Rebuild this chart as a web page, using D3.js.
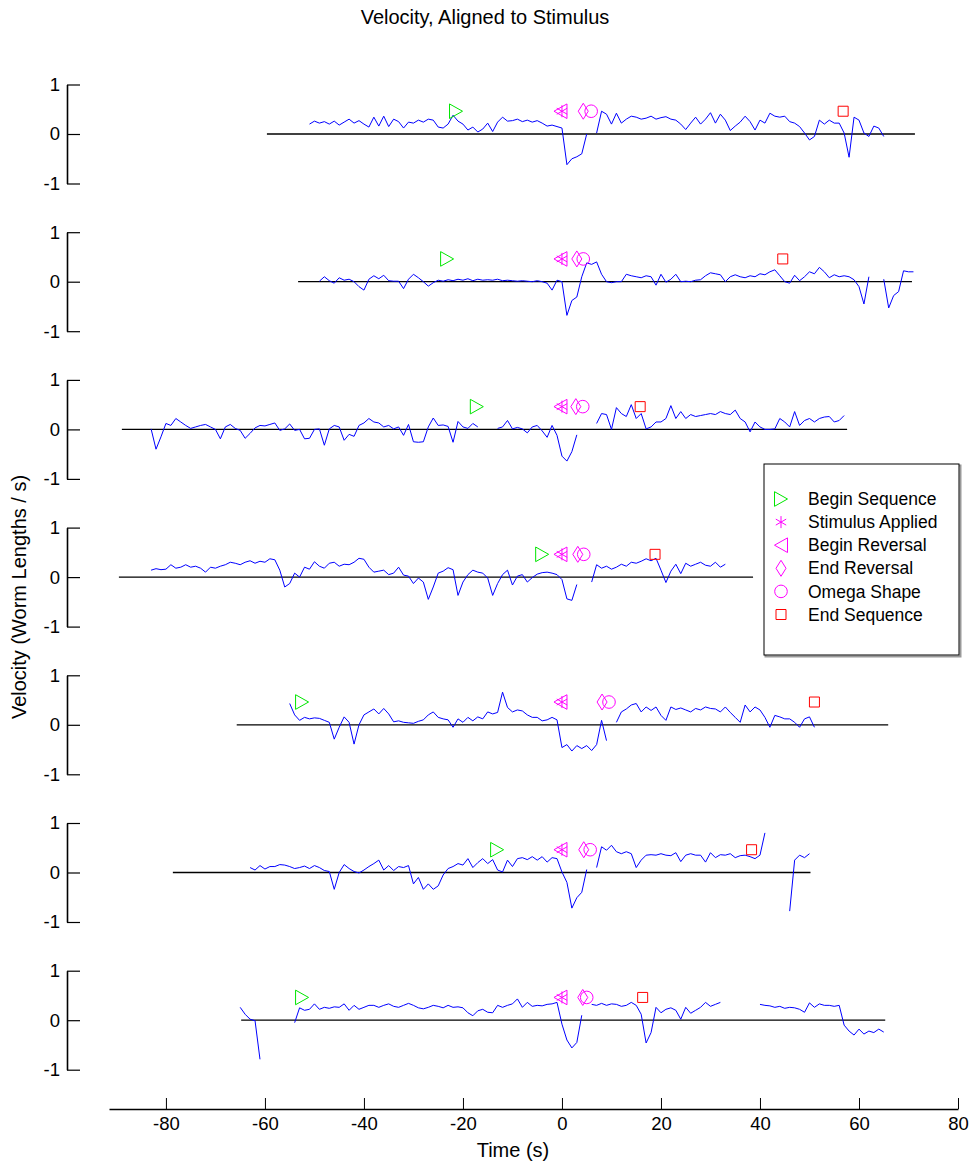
<!DOCTYPE html>
<html>
<head>
<meta charset="utf-8">
<script src="https://cdn.jsdelivr.net/npm/d3@7"></script>
<style>
  body { margin: 0; background: #fff; }
  text { font-family: 'Liberation Sans', Arial, Helvetica, sans-serif; }
</style>
</head>
<body>
<div id="chart"></div>
<script>
// Tick labels
const xTicks = [-80, -60, -40, -20, 0, 20, 40, 60, 80];
const yTicks = [-1, 0, 1];

// First sample time (s) of each trial, samples are 1 s apart, null = gap
const traceStart = [-51, -49, -83, -83, -55, -63, -65];

const vel1 = [
  0.20, 0.26, 0.22, 0.25, 0.20, 0.26, 0.18, 0.24, 0.30, 0.22,
  0.27, 0.20, 0.14, 0.34, 0.16, 0.36, 0.15, 0.30, 0.25, 0.12,
  0.24, 0.22, 0.28, 0.24, 0.30, 0.28, 0.14, 0.12, 0.20, 0.38,
  0.26, 0.20, 0.08, 0.14, 0.04, 0.10, 0.22, 0.05, 0.24, 0.34,
  0.26, 0.27, 0.30, 0.25, 0.28, 0.24, 0.27, 0.22, 0.16, 0.18,
  0.15, 0.12, -0.62, -0.50, -0.46, -0.40, 0.00, null, 0.02, 0.46,
  0.40, 0.20, 0.42, 0.22, 0.30, 0.36, 0.34, 0.30, 0.32, 0.36,
  0.30, 0.33, 0.35, 0.30, 0.28, 0.20, 0.09, 0.22, 0.34, 0.20,
  0.30, 0.43, 0.22, 0.40, 0.28, 0.07, 0.16, 0.24, 0.36, 0.25,
  0.08, 0.28, 0.22, 0.42, 0.36, 0.34, 0.36, 0.25, 0.22, 0.15,
  0.02, -0.12, -0.05, 0.28, 0.20, 0.28, 0.22, 0.22, 0.02, -0.47,
  0.34, 0.28, 0.02, -0.05, 0.16, 0.12, -0.05
];
const vel2 = [
  0.01, 0.10, 0.02, -0.03, 0.08, 0.03, 0.05, 0.00, -0.10, -0.17,
  0.05, 0.12, 0.06, 0.13, 0.02, 0.01, 0.01, -0.14, 0.05, 0.15,
  0.08, 0.00, -0.09, -0.02, 0.03, 0.01, 0.04, 0.02, 0.05, 0.03,
  0.06, 0.02, 0.05, 0.03, 0.04, 0.03, 0.05, 0.02, 0.03, 0.02,
  0.01, 0.02, 0.01, 0.00, 0.02, 0.00, -0.03, -0.17, 0.03, 0.00,
  -0.68, -0.38, -0.31, 0.10, 0.38, 0.35, 0.40, 0.15, 0.00, -0.02,
  0.00, 0.00, 0.15, 0.12, 0.10, 0.08, 0.12, 0.10, -0.07, 0.15,
  -0.01, 0.05, 0.15, 0.00, 0.01, 0.00, 0.03, 0.04, 0.12, 0.18,
  0.16, 0.14, 0.00, 0.10, 0.14, 0.10, 0.08, 0.12, 0.10, 0.16,
  0.14, 0.20, 0.24, 0.12, 0.00, -0.03, 0.13, 0.02, 0.10, 0.20,
  0.16, 0.29, 0.20, 0.08, 0.14, 0.10, 0.12, 0.10, 0.04, -0.10,
  -0.45, 0.10, null, null, 0.05, -0.53, -0.28, -0.20, 0.22, 0.20,
  0.20
];
const vel3 = [
  0.01, -0.40, -0.15, 0.12, 0.08, 0.22, 0.15, 0.08, 0.02, 0.05,
  0.08, 0.10, 0.05, 0.00, -0.19, 0.05, 0.10, 0.02, -0.02, -0.18,
  -0.08, 0.03, 0.08, 0.07, 0.10, 0.13, -0.02, 0.01, 0.11, -0.02,
  0.00, -0.19, -0.18, 0.00, 0.01, -0.32, 0.01, 0.08, 0.05, -0.22,
  -0.10, -0.14, 0.08, 0.13, 0.22, 0.15, 0.13, 0.05, 0.08, 0.01,
  0.05, -0.12, 0.10, -0.25, -0.26, -0.25, 0.05, 0.23, 0.08, 0.09,
  0.06, -0.26, 0.16, 0.05, 0.02, 0.12, 0.05, null, null, null,
  0.02, 0.05, 0.18, 0.01, 0.04, 0.01, -0.07, 0.05, 0.08, -0.03,
  -0.16, 0.08, -0.12, -0.54, -0.64, -0.45, -0.11, null, null, null,
  0.12, 0.32, 0.30, 0.00, 0.44, 0.32, 0.26, 0.50, 0.22, 0.32,
  0.01, 0.05, 0.15, 0.15, 0.22, 0.48, 0.22, 0.36, 0.22, 0.30,
  0.26, 0.28, 0.30, 0.32, 0.30, 0.36, 0.32, 0.30, 0.39, 0.22,
  0.15, -0.05, 0.15, 0.05, 0.00, 0.00, 0.01, 0.22, 0.15, 0.05,
  0.36, 0.08, 0.18, 0.22, 0.15, 0.22, 0.25, 0.26, 0.15, 0.18,
  0.28
];
const vel4 = [
  0.14, 0.17, 0.15, 0.16, 0.25, 0.18, 0.20, 0.25, 0.20, 0.22,
  0.18, 0.10, 0.20, 0.18, 0.22, 0.25, 0.30, 0.28, 0.25, 0.30,
  0.33, 0.28, 0.32, 0.30, 0.37, 0.35, 0.14, -0.20, -0.13, 0.08,
  0.00, 0.20, 0.16, 0.31, 0.22, 0.18, 0.28, 0.30, 0.22, 0.26,
  0.25, 0.30, 0.38, 0.36, 0.20, 0.10, 0.12, 0.14, 0.05, 0.08,
  0.20, 0.04, 0.02, -0.13, -0.02, -0.10, -0.45, -0.20, 0.08, 0.12,
  0.19, 0.15, -0.37, -0.10, 0.05, 0.14, 0.10, 0.08, -0.02, -0.37,
  -0.13, 0.05, 0.14, -0.16, 0.02, 0.05, -0.10, -0.01, 0.06, 0.09,
  0.10, 0.08, 0.05, -0.05, -0.44, -0.47, -0.15, null, null, -0.10,
  0.25, 0.18, 0.22, 0.16, 0.20, 0.26, 0.22, 0.30, 0.28, 0.32,
  0.37, 0.33, 0.38, 0.14, -0.11, 0.12, 0.26, 0.07, 0.28, 0.22,
  0.26, 0.30, 0.24, 0.22, 0.30, 0.20, 0.26
];
const vel5 = [
  0.43, 0.20, 0.09, 0.15, 0.12, 0.14, 0.13, 0.09, 0.05, -0.29,
  -0.05, 0.16, 0.05, -0.39, 0.00, 0.20, 0.26, 0.32, 0.22, 0.33,
  0.22, 0.06, 0.08, 0.05, 0.04, 0.03, 0.07, 0.10, 0.20, 0.26,
  0.15, 0.12, 0.10, -0.05, 0.12, 0.05, 0.15, 0.08, 0.16, 0.12,
  0.26, 0.22, 0.25, 0.66, 0.35, 0.26, 0.30, 0.28, 0.20, 0.15,
  0.15, 0.08, 0.10, 0.15, 0.10, -0.46, -0.40, -0.53, -0.42, -0.48,
  -0.42, -0.52, -0.40, 0.09, -0.32, null, 0.05, 0.26, 0.32, 0.40,
  0.43, 0.26, 0.36, 0.29, 0.36, 0.19, 0.09, 0.36, 0.31, 0.34,
  0.30, 0.26, 0.33, 0.30, 0.36, 0.33, 0.32, 0.26, 0.36, 0.25,
  0.15, 0.05, 0.40, 0.26, 0.36, 0.30, 0.15, -0.05, 0.19, 0.16,
  0.12, 0.12, 0.05, -0.05, 0.12, 0.16, -0.05
];
const vel6 = [
  0.10, 0.05, 0.14, 0.07, 0.12, 0.12, 0.16, 0.15, 0.12, 0.08,
  0.10, 0.13, 0.08, 0.14, 0.10, 0.04, 0.02, -0.34, 0.00, 0.16,
  0.08, 0.02, -0.01, 0.05, 0.12, 0.18, 0.25, 0.05, 0.14, 0.04,
  0.12, 0.10, 0.14, -0.23, -0.10, -0.34, -0.23, -0.34, -0.27, -0.05,
  0.08, 0.12, 0.18, 0.15, 0.28, 0.10, 0.20, 0.28, 0.18, 0.26,
  0.05, 0.01, 0.25, 0.12, 0.28, 0.30, 0.26, 0.32, 0.25, 0.32,
  0.21, 0.30, 0.28, 0.01, -0.20, -0.72, -0.51, -0.40, 0.06, null,
  0.10, 0.52, 0.45, 0.55, 0.42, 0.38, 0.42, 0.38, 0.10, 0.25,
  0.35, 0.36, 0.35, 0.38, 0.35, 0.34, 0.40, 0.22, 0.35, 0.38,
  0.35, 0.35, 0.21, 0.40, 0.30, 0.36, 0.35, 0.38, 0.30, 0.34,
  0.35, 0.32, 0.28, 0.35, 0.80, null, null, null, null, -0.78,
  0.25, 0.35, 0.30, 0.38
];
const vel7 = [
  0.26, 0.12, 0.02, -0.01, -0.79, null, null, null, null, null,
  null, -0.05, 0.25, 0.20, 0.22, 0.33, 0.22, 0.26, 0.24, 0.27,
  0.26, 0.33, 0.20, 0.30, 0.22, 0.26, 0.30, 0.30, 0.26, 0.30,
  0.33, 0.28, 0.26, 0.30, 0.34, 0.30, 0.25, 0.23, 0.26, 0.30,
  0.28, 0.25, 0.30, 0.26, 0.27, 0.25, 0.15, 0.09, 0.19, 0.22,
  0.16, 0.15, 0.30, 0.26, 0.30, 0.33, 0.43, 0.26, 0.36, 0.28,
  0.30, 0.29, 0.32, 0.33, 0.36, -0.08, -0.40, -0.56, -0.45, 0.10,
  null, 0.32, 0.30, 0.34, 0.30, 0.33, 0.32, 0.28, 0.30, 0.36,
  0.30, 0.12, -0.46, -0.25, 0.26, 0.15, 0.22, 0.25, 0.20, 0.02,
  0.26, 0.14, 0.20, 0.26, 0.36, 0.28, 0.32, 0.36, null, null,
  null, null, null, null, null, 0.32, 0.30, 0.29, 0.26, 0.28,
  0.24, 0.26, 0.25, 0.22, 0.16, 0.35, 0.26, 0.33, 0.30, 0.30,
  0.28, 0.30, -0.10, -0.22, -0.30, -0.18, -0.28, -0.22, -0.25, -0.18,
  -0.24
];
const velocities = [vel1, vel2, vel3, vel4, vel5, vel6, vel7];

// Extent of each trial's zero reference line (s)
const baseStart = [-59.6, -53.3, -88.9, -89.5, -65.7, -78.6, -64.8];
const baseEnd = [71.3, 70.7, 57.6, 38.6, 65.9, 50.2, 65.3];

// Behavioural events per trial (s)
const beginSequence = [-21.4, -23.2, -17.2, -4.0, -52.5, -13.1, -52.5];
const stimulusApplied = [0, 0, 0, 0, 0, 0, 0];
const beginReversal = [-0.3, -0.3, -0.3, -0.3, -0.3, -0.3, -0.3];
const endReversal = [4.3, 3.0, 2.8, 3.2, 8.1, 4.4, 4.2];
const omegaShape = [5.9, 4.3, 4.2, 4.4, 9.5, 5.7, 5.0];
const endSequence = [56.8, 44.6, 15.8, 18.8, 51.0, 38.3, 16.3];
const markerLevel = 0.46;

const legendLabels = ['Begin Sequence', 'Stimulus Applied', 'Begin Reversal',
  'End Reversal', 'Omega Shape', 'End Sequence'];

// marker shapes, centred on 0,0
const shapes = {
  triRight: 'M-6.5,-7.3L6.5,0L-6.5,7.3Z',
  triLeft: 'M6.5,-7.3L-6.5,0L6.5,7.3Z',
  diamond: 'M0,-8L5,0L0,8L-5,0Z',
  circle: 'M6.3,0A6.3,6.3 0 1,1 -6.3,0A6.3,6.3 0 1,1 6.3,0Z',
  square: 'M-5,-5H5V5H-5Z',
  asterisk: 'M0,-6V6M-5.2,-3L5.2,3M-5.2,3L5.2,-3',
};

const events = [
  { times: beginSequence, shape: 'triRight', color: '#00e600' },
  { times: stimulusApplied, shape: 'asterisk', color: '#ff00ff' },
  { times: beginReversal, shape: 'triLeft', color: '#ff00ff' },
  { times: endReversal, shape: 'diamond', color: '#ff00ff' },
  { times: omegaShape, shape: 'circle', color: '#ff00ff' },
  { times: endSequence, shape: 'square', color: '#ff0000' },
];

const width = 974;
const height = 1165;

const svg = d3.select('#chart')
  .append('svg')
  .attr('width', width)
  .attr('height', height);

// shared time scale
const x = d3.scaleLinear().domain([-91.5, 80]).range([109, 958]);

const panelTop = 84.5;
const panelStep = 147.7;
const panelH = 99;

const y = d3.scaleLinear().domain([-1, 1]).range([panelH, 0]);

const line = d3.line()
  .defined(d => d[1] !== null)
  .x(d => x(d[0]))
  .y(d => y(d[1]));

velocities.forEach((vals, i) => {
  const g = svg.append('g')
    .attr('transform', `translate(0, ${panelTop + i * panelStep})`);

  // y axis
  const ax = g.append('g')
    .attr('transform', 'translate(67, 0)')
    .call(d3.axisLeft(y)
      .tickValues(yTicks)
      .tickFormat(d => String(d))
      .tickSizeInner(-13)
      .tickSizeOuter(0)
      .tickPadding(7));
  ax.attr('font-size', 18.5).attr('font-family', null);
  ax.select('.domain').attr('stroke-width', 1.6);
  ax.selectAll('.tick line').attr('stroke-width', 1.2);

  // zero line
  g.append('line')
    .attr('x1', x(baseStart[i]))
    .attr('x2', x(baseEnd[i]))
    .attr('y1', y(0))
    .attr('y2', y(0))
    .attr('stroke', '#000')
    .attr('stroke-width', 1.3);

  // velocity trace
  const data = vals.map((v, k) => [traceStart[i] + k, v]);
  g.append('path')
    .attr('d', line(data))
    .attr('fill', 'none')
    .attr('stroke', '#0000ff')
    .attr('stroke-width', 1);

  // event markers
  events.forEach((ev) => {
    g.append('path')
      .attr('d', shapes[ev.shape])
      .attr('transform', `translate(${x(ev.times[i])}, ${y(markerLevel)})`)
      .attr('fill', 'none')
      .attr('stroke', ev.color)
      .attr('stroke-width', 1);
  });
});

// bottom time axis
const xAx = svg.append('g')
  .attr('transform', 'translate(0, 1109)')
  .call(d3.axisBottom(x)
    .tickValues(xTicks)
    .tickFormat(d => String(d))
    .tickSizeInner(-11)
    .tickSizeOuter(0)
    .tickPadding(8));
xAx.attr('font-size', 18.5).attr('font-family', null);
xAx.select('.domain').attr('stroke-width', 1.6);

// titles
svg.append('text')
  .attr('x', 485)
  .attr('y', 24)
  .attr('text-anchor', 'middle')
  .attr('font-size', 20)
  .text('Velocity, Aligned to Stimulus');

svg.append('text')
  .attr('x', 513)
  .attr('y', 1157)
  .attr('text-anchor', 'middle')
  .attr('font-size', 20)
  .text('Time (s)');

svg.append('text')
  .attr('transform', 'translate(26, 597) rotate(-90)')
  .attr('text-anchor', 'middle')
  .attr('font-size', 20)
  .text('Velocity (Worm Lengths / s)');

// legend
const legend = svg.append('g').attr('transform', 'translate(764, 464)');
legend.append('rect')
  .attr('x', 1.5).attr('y', 1.5)
  .attr('width', 195).attr('height', 191)
  .attr('fill', 'none')
  .attr('stroke', '#999')
  .attr('stroke-width', 2);
legend.append('rect')
  .attr('width', 195).attr('height', 191)
  .attr('fill', '#fff')
  .attr('stroke', '#000')
  .attr('stroke-width', 1);

legendLabels.forEach((label, k) => {
  const row = legend.append('g').attr('transform', `translate(0, ${35 + k * 23.1})`);
  row.append('path')
    .attr('d', shapes[events[k].shape])
    .attr('transform', 'translate(17, 0)')
    .attr('fill', 'none')
    .attr('stroke', events[k].color)
    .attr('stroke-width', 1);
  row.append('text')
    .attr('x', 44)
    .attr('dy', '0.35em')
    .attr('font-size', 17.5)
    .text(label);
});
</script>
</body>
</html>
